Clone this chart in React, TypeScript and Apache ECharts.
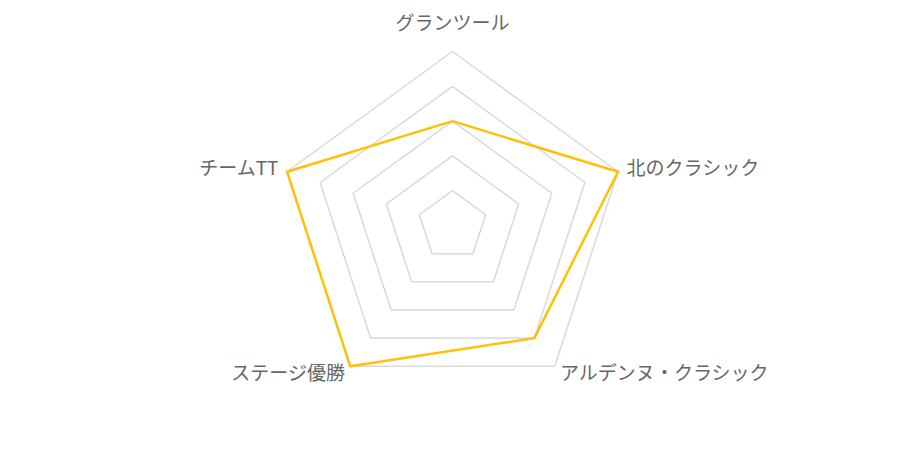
import React, { useEffect, useRef } from "react";
import * as echarts from "echarts";

const indicatorNames = ["グランツール", "チームTT", "ステージ優勝", "アルデンヌ・クラシック", "北のクラシック"];
const indicatorMax = [100, 100, 100, 100, 100];
const seriesValues = [60, 100, 100, 80, 100];

export default function App() {
  const ref = useRef<HTMLDivElement>(null);
  useEffect(() => {
    const chart = echarts.init(ref.current!, null, { renderer: "svg" });
    const font = "Noto Sans CJK JP";
    chart.setOption({
      animation: false,
      radar: {
        center: ["50%", "50%"],
        radius: "80%",
        splitNumber: 5,
        indicator: indicatorNames.map((n, i) => ({ name: n, max: indicatorMax[i] })),
        axisName: {
          color: "#666",
          fontSize: 19,
          fontFamily: font,
          padding: [0, 0, 5, 0],
          formatter: (name: string) => (name === indicatorNames[0] ? `{t|${name}}` : name),
          rich: {
            t: { color: "#666", fontSize: 19, fontFamily: font, padding: [0, 0, 7, 0] },
          },
        },
        axisLine: { show: false },
        splitArea: { show: false },
        splitLine: { lineStyle: { color: "#d9d9d9", width: 1.5 } },
        nameGap: 9,
      },
      series: [
        {
          type: "radar",
          symbol: "none",
          lineStyle: { color: "#FFC107", width: 2.5 },
          data: [{ value: seriesValues }],
        },
      ],
    });
    return () => chart.dispose();
  }, []);
  return <div ref={ref} style={{ width: "100%", height: 435 }} />;
}
